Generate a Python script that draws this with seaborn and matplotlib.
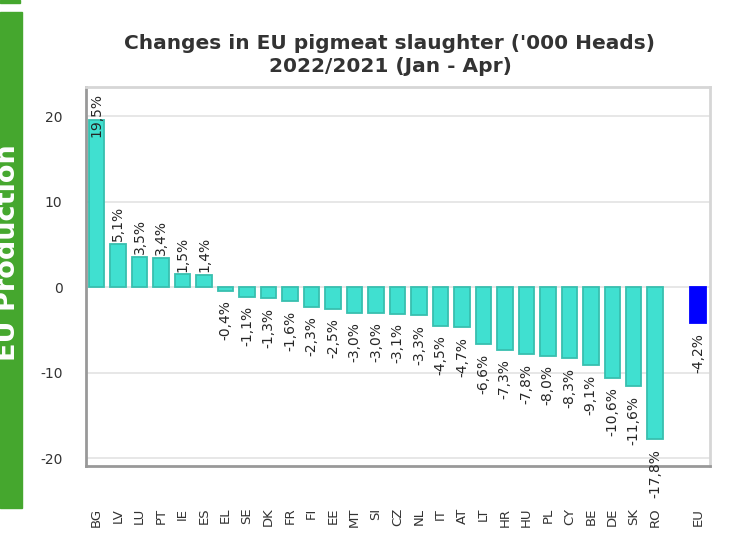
import matplotlib
matplotlib.use("Agg")
import matplotlib.pyplot as plt
import matplotlib.patches as mpatches
import pandas as pd
import seaborn as sns

# === data ===
countries = ["BG", "LV", "LU", "PT", "IE", "ES", "EL", "SE", "DK", "FR", "FI", "EE", "MT", "SI",
             "CZ", "NL", "IT", "AT", "LT", "HR", "HU", "PL", "CY", "BE", "DE", "SK", "RO"]
changes = [19.5, 5.1, 3.5, 3.4, 1.5, 1.4, -0.4, -1.1, -1.3, -1.6, -2.3, -2.5, -3.0, -3.0,
           -3.1, -3.3, -4.5, -4.7, -6.6, -7.3, -7.8, -8.0, -8.3, -9.1, -10.6, -11.6, -17.8]
eu_label = "EU"
eu_change = -4.2
title = "Changes in EU pigmeat slaughter ('000 Heads)\n2022/2021 (Jan - Apr)"
side_label = "EU Production"

df = pd.DataFrame({
    "code": countries + [eu_label],
    "change": changes + [eu_change],
    "group": ["country"] * len(countries) + ["eu"],
})
order = countries + [" "] + [eu_label]

# === figure ===
sns.set_style("white")
plt.rcParams["font.family"] = ["DejaVu Sans"]
plt.rcParams["axes.unicode_minus"] = False
fig = plt.figure(figsize=(7.31, 5.39), dpi=100)
ax = fig.add_axes([86 / 731, 1 - 466 / 539, 624 / 731, 379 / 539])

sns.barplot(data=df, x="code", y="change", hue="group", order=order,
            palette={"country": "#40E0D0", "eu": "#0000FF"}, dodge=False,
            saturation=1, width=0.72, legend=False, ax=ax, zorder=3)

for bar in ax.patches:
    fc = bar.get_facecolor()
    if fc[2] > 0.95 and fc[0] < 0.1:
        bar.set_edgecolor("#0000FF")
    else:
        bar.set_edgecolor("#38BFAF")
    bar.set_linewidth(1.3)

ax.set_ylim(-20.9, 23.4)
ax.set_xlim(-0.5, len(order) - 0.45)
ax.set_yticks([-20, -10, 0, 10, 20])
ax.yaxis.grid(True, color="#e3e3e3", linewidth=1.2, zorder=0)
ax.set_xlabel("")
ax.set_ylabel("")
ax.tick_params(axis="y", length=8, width=1.2, color="#aaaaaa", labelsize=10,
               labelcolor="#333333", pad=9)
ax.tick_params(axis="x", length=0, labelsize=9.5, labelcolor="#333333", pad=30,
               labelrotation=90)

for side in ["left", "bottom"]:
    ax.spines[side].set_color("#999999")
    ax.spines[side].set_linewidth(2)
for side in ["top", "right"]:
    ax.spines[side].set_color("#d6d6d6")
    ax.spines[side].set_linewidth(2)

# value labels
positions = {c: i for i, c in enumerate(order)}
for code, val in zip(df["code"], df["change"]):
    txt = f"{val:.1f}%".replace(".", ",")
    x = positions[code]
    if val > 15:
        ax.annotate(txt, (x, 23.4), xytext=(0, -4), textcoords="offset points",
                    rotation=90, ha="center", va="top", fontsize=10, zorder=5)
    elif val >= 0:
        ax.annotate(txt, (x, val), xytext=(0, 2), textcoords="offset points",
                    rotation=90, ha="center", va="bottom", fontsize=10, zorder=5)
    else:
        ax.annotate(txt, (x, val), xytext=(0, -7), textcoords="offset points",
                    rotation=90, ha="center", va="top", fontsize=10, zorder=5,
                    annotation_clip=False)

fig.text(390 / 731, 1 - 55 / 539, title, ha="center", va="center", fontsize=14.5,
         fontweight="bold", color="#333333", linespacing=1.3)

# green side band
fig.patches.append(mpatches.Rectangle((0, 1 - 508 / 539), 22 / 731, 496 / 539,
                                      transform=fig.transFigure, color="#45A72E", zorder=0))
fig.patches.append(mpatches.Rectangle((0, 1 - 3 / 539), 20 / 731, 3 / 539,
                                      transform=fig.transFigure, color="#45A72E", zorder=0))
fig.text(21 / 731, 1 - 253 / 539, side_label, rotation=90, ha="right", va="center",
         fontsize=19.5, fontweight="bold", color="white")

fig.savefig("out.png", dpi=100)
plt.close(fig)
